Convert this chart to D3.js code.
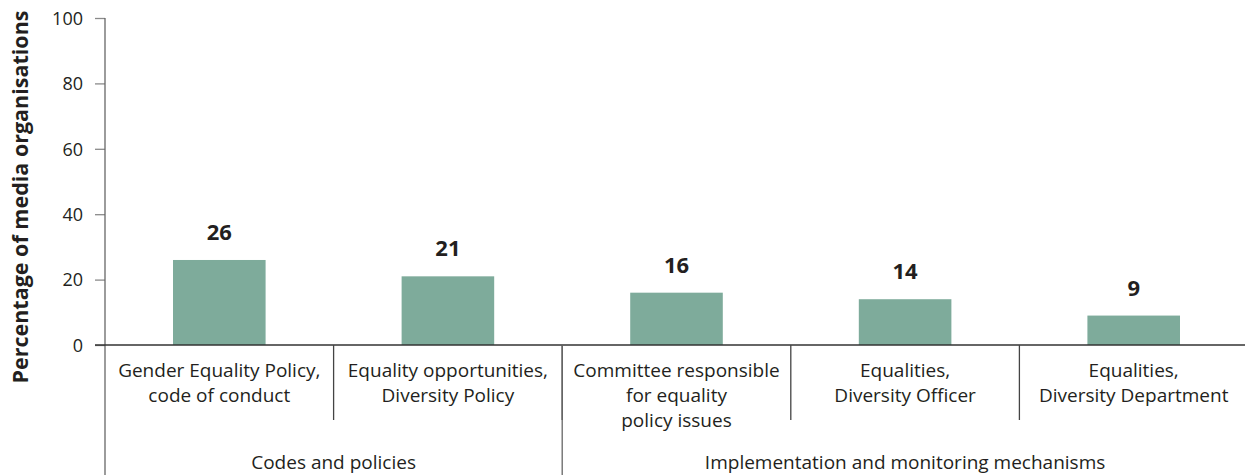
<!DOCTYPE html>
<html>
<head>
<meta charset="utf-8">
<script src="https://cdn.jsdelivr.net/npm/d3@7"></script>
<style>
  body { margin: 0; background: #fff; }
  text { font-family: "Open Sans", sans-serif; fill: #231f20; }
</style>
</head>
<body>
<div id="chart"></div>
<script>
// data
var categories = [
  ["Gender Equality Policy,", "code of conduct"],
  ["Equality opportunities,", "Diversity Policy"],
  ["Committee responsible", "for equality", "policy issues"],
  ["Equalities,", "Diversity Officer"],
  ["Equalities,", "Diversity Department"]
];
var values = [26, 21, 16, 14, 9];
var groups = ["Codes and policies", "Implementation and monitoring mechanisms"];
var groupSizes = [2, 3];
var yTicks = [0, 20, 40, 60, 80, 100];
var yTitle = "Percentage of media organisations";

var w = 1245, h = 475;
var x0 = 105, x1 = 1248, yTop = 18, yBase = 345;

var svg = d3.select('#chart').append('svg')
  .attr('width', w)
  .attr('height', h);

var x = d3.scaleBand()
  .domain(d3.range(values.length))
  .range([x0, x1])
  .paddingInner(0)
  .paddingOuter(0);

var y = d3.scaleLinear().domain([0, 100]).range([yBase, yTop]);

// y axis
var yAxis = d3.axisLeft(y).tickValues(yTicks).tickSize(10).tickPadding(12);
var gy = svg.append('g').attr('transform', 'translate(' + x0 + ',0)').call(yAxis);
gy.select('.domain').remove();
gy.selectAll('.tick line').attr('stroke', '#8a8a8a').attr('stroke-width', 1.3);
gy.selectAll('.tick text').style('font-size', '18px').attr('fill', '#231f20').attr('dy', '0.35em');

// vertical axis line (extends to bottom)
svg.append('line')
  .attr('x1', x0).attr('x2', x0)
  .attr('y1', yTop).attr('y2', h)
  .attr('stroke', '#666').attr('stroke-width', 1.3);

// y title
svg.append('text')
  .attr('transform', 'translate(20,197) rotate(-90)')
  .attr('text-anchor', 'middle')
  .attr('dy', '0.35em')
  .style('font-size', '21.5px')
  .style('font-weight', 'bold')
  .text(yTitle);

// bars
var bw = x.bandwidth() * 0.405;
svg.selectAll('rect.bar')
  .data(values)
  .enter().append('rect')
  .attr('class', 'bar')
  .attr('x', function(d, i) { return x(i) + x.bandwidth() / 2 - bw / 2; })
  .attr('y', function(d) { return y(d); })
  .attr('width', bw)
  .attr('height', function(d) { return yBase - y(d); })
  .style('fill', '#7eab9b');

// value labels
svg.selectAll('text.val')
  .data(values)
  .enter().append('text')
  .attr('class', 'val')
  .attr('x', function(d, i) { return x(i) + x.bandwidth() / 2; })
  .attr('y', function(d) { return y(d) - 20; })
  .attr('text-anchor', 'middle')
  .style('font-size', '22px')
  .style('font-weight', 'bold')
  .text(function(d) { return d; });

// baseline
svg.append('line')
  .attr('x1', 95).attr('x2', w)
  .attr('y1', yBase).attr('y2', yBase)
  .attr('stroke', '#333').attr('stroke-width', 1.3);

// category separators
svg.selectAll('line.sep')
  .data(d3.range(1, values.length))
  .enter().append('line')
  .attr('class', 'sep')
  .attr('x1', function(i) { return x(i); })
  .attr('x2', function(i) { return x(i); })
  .attr('y1', yBase)
  .attr('y2', 420)
  .attr('stroke', '#444').attr('stroke-width', 1.3);

// category labels
svg.selectAll('text.cat')
  .data(categories)
  .enter().append('text')
  .attr('class', 'cat')
  .attr('text-anchor', 'middle')
  .style('font-size', '19px')
  .each(function(d, i) {
    var t = d3.select(this);
    d.forEach(function(line, j) {
      t.append('tspan')
        .attr('x', x(i) + x.bandwidth() / 2)
        .attr('y', 377 + j * 25)
        .text(line);
    });
  });

// group separators & labels
var start = 0;
groups.forEach(function(g, k) {
  var gx0 = x(start);
  var gx1 = start + groupSizes[k] < values.length ? x(start + groupSizes[k]) : x1;
  if (k > 0) {
    svg.append('line')
      .attr('x1', gx0).attr('x2', gx0)
      .attr('y1', yBase).attr('y2', h)
      .attr('stroke', '#666').attr('stroke-width', 1.3);
  }
  svg.append('text')
    .attr('x', (gx0 + gx1) / 2)
    .attr('y', 469)
    .attr('text-anchor', 'middle')
    .style('font-size', '19px')
    .text(g);
  start += groupSizes[k];
});
</script>
</body>
</html>
